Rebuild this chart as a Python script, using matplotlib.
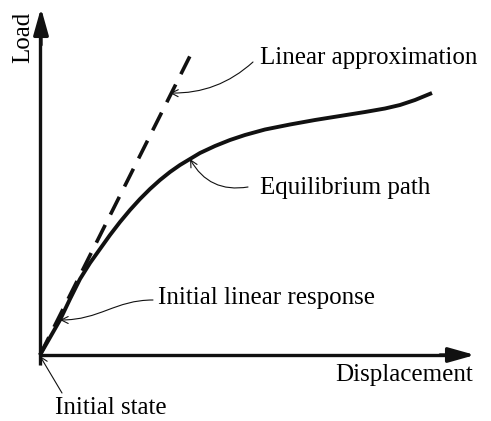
import matplotlib.pyplot as plt
from matplotlib.patches import FancyArrowPatch
from matplotlib.path import Path

plt.rcParams['font.family'] = ['Liberation Serif', 'DejaVu Serif']

# equilibrium path (displacement, load)
disp = [0, 10, 20, 30, 40, 50, 60, 70, 80, 90, 100, 110, 120, 130, 140, 150, 160,
        175, 190, 205, 225, 250, 275, 300, 325, 345, 360, 375, 392]
load = [0, 17.5, 35, 56, 76, 92, 106, 120, 133, 145, 156, 166, 175, 183, 190, 196, 202,
        209, 215, 220, 225.5, 230.5, 235, 239, 243, 246.5, 250, 255, 262]

# linear approximation (tangent at origin)
lin_disp = [0, 152]
lin_load = [0, 303]

labels = {
    'lin': "Linear approximation",
    'eq': "Equilibrium path",
    'init_lin': "Initial linear response",
    'init': "Initial state",
}

fig = plt.figure(figsize=(4.91, 4.21), dpi=100)
ax = fig.add_axes([0, 0, 1, 1])
ax.set_xlim(-40, 451)
ax.set_ylim(-66, 355)
ax.axis('off')

# axes with arrow heads
ax.plot([0, 0], [-10, 320], color='#111111', lw=2.4, solid_capstyle='butt')
ax.plot([0, 410], [0, 0], color='#111111', lw=2.4, solid_capstyle='butt')
ax.annotate('', xy=(1, 347), xytext=(1, 310),
            arrowprops=dict(arrowstyle='-|>,head_length=1.6,head_width=0.45',
                            color='#111111', lw=2.4, shrinkA=0, shrinkB=0))
ax.annotate('', xy=(435, 0), xytext=(400, 0),
            arrowprops=dict(arrowstyle='-|>,head_length=1.6,head_width=0.45',
                            color='#111111', lw=2.4, shrinkA=0, shrinkB=0))

ax.plot(lin_disp, lin_load, color='#111111', lw=2.6, ls=(0, (5.5, 3.2)))
ax.plot(disp, load, color='#111111', lw=2.8, solid_capstyle='butt',
        solid_joinstyle='round')

fs = 18
ax.text(-17, 318, "Load", rotation=90, fontsize=fs, ha='center', va='center')
ax.text(433, -20, "Displacement", fontsize=fs, ha='right', va='center')
ax.text(220, 297, labels['lin'], fontsize=fs, ha='left', va='center')
ax.text(220, 167, labels['eq'], fontsize=fs, ha='left', va='center')
ax.text(118, 57, labels['init_lin'], fontsize=fs, ha='left', va='center')
ax.text(15, -53, labels['init'], fontsize=fs, ha='left', va='center')

aprops = dict(arrowstyle='->,head_length=0.5,head_width=0.25', color='#111111', lw=0.8,
              shrinkA=0, shrinkB=0)

ax.annotate('', xy=(130, 262), xytext=(213, 293),
            arrowprops=dict(connectionstyle='arc3,rad=-0.2', **aprops))
ax.annotate('', xy=(150, 196), xytext=(208, 168),
            arrowprops=dict(connectionstyle='arc3,rad=-0.35', **aprops))

verts = [(113, 55), (75, 55), (60, 35), (20, 35)]
codes = [Path.MOVETO, Path.CURVE4, Path.CURVE4, Path.CURVE4]
ax.add_patch(FancyArrowPatch(path=Path(verts, codes), transform=ax.transData,
                             mutation_scale=10, **{k: v for k, v in aprops.items()
                                                   if k not in ('shrinkA', 'shrinkB')}))
ax.annotate('', xy=(0, -1), xytext=(22, -38), arrowprops=aprops)

fig.savefig('out.png', dpi=100)
